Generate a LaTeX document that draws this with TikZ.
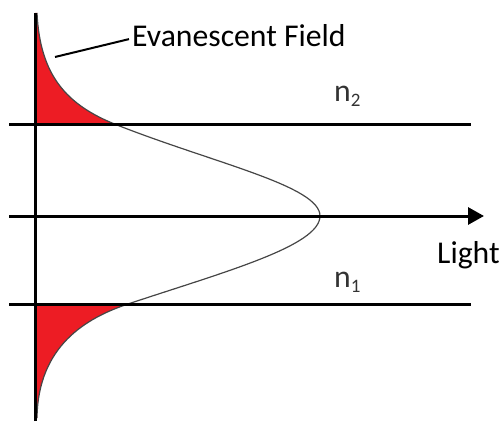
\documentclass[tikz,border=0pt]{standalone}
\usepackage{fontspec}
\setmainfont{Carlito}
\usetikzlibrary{arrows.meta}
\definecolor{evred}{RGB}{237,28,36}
\definecolor{curvegray}{RGB}{70,70,70}
\tikzset{
  refline/.style={line width=3pt, black},
  modecurve/.style={line width=1.2pt, curvegray},
  evfill/.style={fill=evred, draw=none},
  bigtext/.style={font=\fontsize{31.7}{32}\selectfont, inner sep=0pt, anchor=base west},
  leader/.style={line width=2pt, black}
}
\begin{document}
\begin{tikzpicture}[x=1pt,y=1pt]
\useasboundingbox (0,0) rectangle (503,421);
% red evanescent regions
\fill[evfill] (35,408) -- (37,408) .. controls (40,346) and (66,316) .. (117,296) -- (35,296) -- cycle;
\fill[evfill] (35,117) -- (128,117) .. controls (86,103) and (38,75) .. (37,3) -- (35,3) -- cycle;
% mode profile
\draw[modecurve] (37,408) .. controls (40,346) and (66,316) .. (117,296)
  .. controls (215,257.5) and (320,235) .. (320,205)
  .. controls (320,175) and (224,149) .. (128,117)
  .. controls (86,103) and (38,75) .. (37,3);
% named endpoints
\coordinate (t1) at (9,296);
\coordinate (t2) at (471,296);
\coordinate (m1) at (9,205);
\coordinate (m2) at (484,205);
\coordinate (b1) at (9,117);
\coordinate (b2) at (471,117);
\coordinate (a1) at (35,0);
\coordinate (a2) at (35,408);
\draw[refline] (t1) -- (t2);
\draw[refline] (b1) -- (b2);
\draw[refline, -{Triangle[length=16pt,width=17pt]}] (m1) -- (m2);
\draw[refline] (a1) -- (a2);
% labels
\node[bigtext] (ev) at (132,374) {Evanescent Field};
\node[bigtext] (light) at (437,158) {Light};
\node[bigtext, text=black!80] (n2) at (334,319) {n{\fontsize{19}{19}\selectfont\raisebox{-5pt}{2}}};
\node[bigtext, text=black!80] (n1) at (334,134) {n{\fontsize{19}{19}\selectfont\raisebox{-5pt}{1}}};
\coordinate (lead) at (55,364);
\draw[leader] (lead) -- ([xshift=-3pt,yshift=-3pt]ev.west);
\end{tikzpicture}
\end{document}
